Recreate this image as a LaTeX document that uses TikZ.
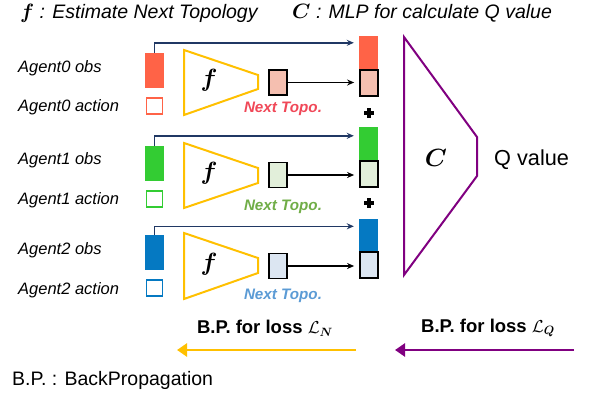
\documentclass[tikz,border=0pt]{standalone}
\usepackage{fontspec}
\usepackage{amsmath,amssymb,bm}
\setmainfont{Liberation Sans}
\usetikzlibrary{arrows.meta,calc}
\definecolor{obsR}{HTML}{FF6347}
\definecolor{obsG}{HTML}{33CC33}
\definecolor{obsB}{HTML}{0579C2}
\definecolor{topR}{HTML}{F5BFB0}
\definecolor{topG}{HTML}{E2EFDA}
\definecolor{topB}{HTML}{DCE6F2}
\definecolor{txtR}{HTML}{F04858}
\definecolor{txtG}{HTML}{70AD47}
\definecolor{txtB}{HTML}{5B9BD5}
\definecolor{navy}{HTML}{203864}
\definecolor{gold}{HTML}{FFC000}
\definecolor{purp}{HTML}{800080}
\tikzset{
  obsbox/.style={minimum width=19pt,minimum height=35pt,inner sep=0pt,draw=none},
  actbox/.style={minimum width=16pt,minimum height=16pt,inner sep=0pt,line width=1.8pt,fill=white},
  topobox/.style={minimum width=18pt,minimum height=25pt,inner sep=0pt,draw=black,line width=1.8pt},
  colobs/.style={minimum width=19pt,minimum height=34pt,inner sep=0pt,draw=none},
  agentlbl/.style={anchor=west,inner sep=0pt,font=\fontsize{16.5}{18}\selectfont\itshape},
  nexttopo/.style={inner sep=0pt,font=\fontsize{15.2}{17}\selectfont\bfseries\itshape},
  obsline/.style={draw=navy,line width=1.6pt,-{Stealth[length=7pt,width=6pt]},shorten >=5pt},
  topoline/.style={draw=black,line width=1.6pt,-{Stealth[length=7pt,width=6pt]},shorten >=5pt},
  ftri/.style={draw=gold,line width=2pt},
  bplbl/.style={inner sep=0pt,font=\fontsize{18.5}{20}\selectfont\bfseries},
}
\begin{document}
\begin{tikzpicture}[x=1pt,y=-1pt]
\useasboundingbox (0,0) rectangle (592,394);
% headers
\node[anchor=west,inner sep=0pt,font=\fontsize{19.5}{21}\selectfont\itshape] (h1) at (20,13) {$\boldsymbol{f}$ : Estimate Next Topology};
\node[anchor=west,inner sep=0pt,font=\fontsize{19.5}{21}\selectfont\itshape] (h2) at (292,13) {$\boldsymbol{C}$ : MLP for calculate Q value};
% agent labels
\node[agentlbl] (l0o) at (18,68) {Agent0 obs};
\node[agentlbl] (l0a) at (18,107) {Agent0 action};
\node[agentlbl] (l1o) at (18,160) {Agent1 obs};
\node[agentlbl] (l1a) at (18,200) {Agent1 action};
\node[agentlbl] (l2o) at (18,250) {Agent2 obs};
\node[agentlbl] (l2a) at (18,290) {Agent2 action};
% obs and action boxes
\node[obsbox,fill=obsR] (obs0) at (154.5,70.5) {};
\node[actbox,draw=obsR] (act0) at (154.5,106) {};
\node[obsbox,fill=obsG] (obs1) at (154.5,163.5) {};
\node[actbox,draw=obsG] (act1) at (154.5,199) {};
\node[obsbox,fill=obsB] (obs2) at (154.5,252.5) {};
\node[actbox,draw=obsB] (act2) at (154.5,288) {};
% f triangles
\draw[ftri] (184,50) -- (258,75) -- (258,89) -- (184,115) -- cycle;
\draw[ftri] (184,143) -- (258,168) -- (258,183) -- (184,208) -- cycle;
\draw[ftri] (184,233) -- (258,258) -- (258,273) -- (184,299) -- cycle;
\node[font=\fontsize{28}{30}\selectfont] (f0) at (209,80) {$\boldsymbol{f}$};
\node[font=\fontsize{28}{30}\selectfont] (f1) at (209,173) {$\boldsymbol{f}$};
\node[font=\fontsize{28}{30}\selectfont] (f2) at (209,264) {$\boldsymbol{f}$};
% topo boxes
\node[topobox,fill=topR] (topo0) at (278,82.5) {};
\node[topobox,fill=topG] (topo1) at (278,175) {};
\node[topobox,fill=topB] (topo2) at (278,266) {};
\node[nexttopo,text=txtR] (nt0) at (283,109) {Next Topo.};
\node[nexttopo,text=txtG] (nt1) at (283,207) {Next Topo.};
\node[nexttopo,text=txtB] (nt2) at (283,296) {Next Topo.};
% column
\node[colobs,fill=obsR] (cobs0) at (368.5,53) {};
\node[topobox,fill=topR,minimum height=26pt] (ctopo0) at (369,83) {};
\node[colobs,fill=obsG] (cobs1) at (368.5,144) {};
\node[topobox,fill=topG,minimum height=26pt] (ctopo1) at (369,174) {};
\node[colobs,fill=obsB] (cobs2) at (368.5,235.5) {};
\node[topobox,fill=topB,minimum height=26pt] (ctopo2) at (369,265) {};
\draw[line width=3.5pt] (364,113) -- (374,113) (369,108) -- (369,118);
\draw[line width=3.5pt] (364,203) -- (374,203) (369,198) -- (369,208);
% connectors
\draw[obsline] (obs0.north) |- ([yshift=-7pt]cobs0.north west);
\draw[obsline] (obs1.north) |- ([yshift=-9pt]cobs1.north west);
\draw[obsline] (obs2.north) |- ([yshift=-8pt]cobs2.north west);
\draw[topoline] (topo0.east) -- (topo0.east -| ctopo0.west);
\draw[topoline] (topo1.east) -- (topo1.east -| ctopo1.west);
\draw[topoline] (topo2.east) -- (topo2.east -| ctopo2.west);
% C trapezoid
\draw[draw=purp,line width=2pt] (404,37) -- (477,137) -- (477,176) -- (404,275) -- cycle;
\node[font=\fontsize{38}{40}\selectfont] (cc) at (436,158) {$\boldsymbol{C}$};
\node[anchor=west,inner sep=0pt,font=\fontsize{21.7}{23}\selectfont] (qv) at (494,160) {Q value};
% bottom
\node[bplbl] (bpn) at (265,328) {B.P. for loss $\mathcal{L}_{\boldsymbol{N}}$};
\node[bplbl] (bpq) at (488,328) {B.P. for loss $\mathcal{L}_{\boldsymbol{Q}}$};
\coordinate (yn1) at (356,350);
\coordinate (yn2) at (177,350);
\coordinate (pq1) at (574,350);
\coordinate (pq2) at (395,350);
\draw[draw=gold,line width=2.8pt,-{Triangle[length=10pt,width=13pt]}] (yn1) -- (yn2);
\draw[draw=purp,line width=2.8pt,-{Triangle[length=10pt,width=13pt]}] (pq1) -- (pq2);
\node[anchor=west,inner sep=0pt,font=\fontsize{19.5}{21}\selectfont] (bp) at (12,380) {B.P. : BackPropagation};
\end{tikzpicture}
\end{document}
